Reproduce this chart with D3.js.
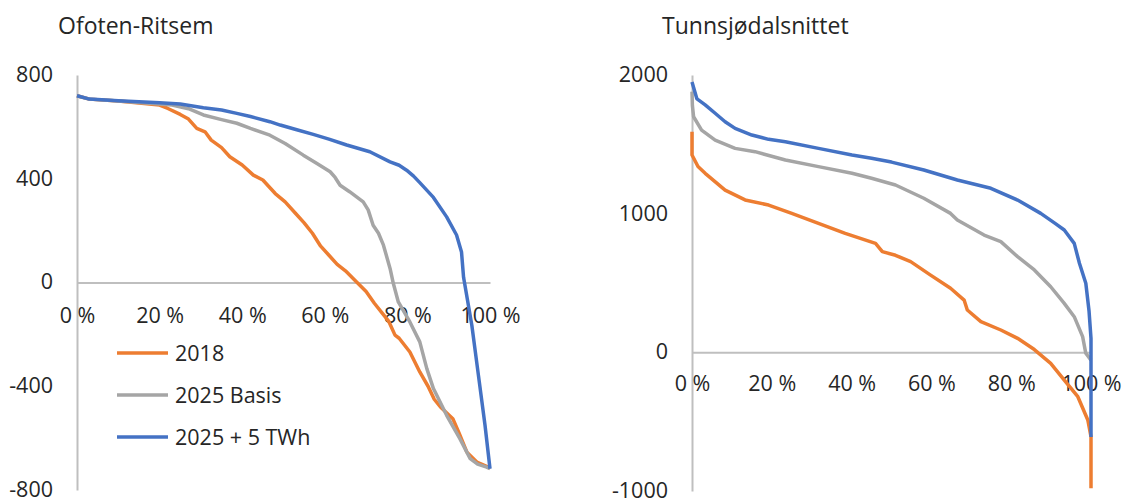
<!DOCTYPE html>
<html>
<head>
<meta charset="utf-8">
<script src="https://cdn.jsdelivr.net/npm/d3@7"></script>
<style>
  body { margin: 0; background: #fff; }
  svg { display: block; }
  text { font-family: "Open Sans", sans-serif; fill: #262626; }
</style>
</head>
<body>
<svg id="chart" width="1129" height="501"></svg>
<script>
// Series shared by both panels
const seriesNames = ["2018", "2025 Basis", "2025 + 5 TWh"];
const seriesColors = ["#ED7D31", "#A5A5A5", "#4472C4"];

// Share of hours (%) on the x axis
const xTicks = [0, 20, 40, 60, 80, 100];
const xTickLabels = ["0 %", "20 %", "40 %", "60 %", "80 %", "100 %"];

// Ofoten-Ritsem duration curves (MW), sorted from highest to lowest
const ofotenTicks = [-800, -400, 0, 400, 800];
const ofotenTickLabels = ["-800", "-400", "0", "400", "800"];
const ofotenPct2018 = [0, 3, 10, 20, 22, 25, 27, 29, 31, 32.5, 35, 37, 40, 42.7, 45, 48, 50.4, 53, 55, 57, 59, 61, 63, 65, 67.7, 70, 72, 74, 75.5, 77, 78, 80.6, 83, 85, 86.5, 88, 91, 92.5, 94.4, 96.8, 99.6, 100];
const ofoten2018 = [720, 707, 700, 684, 671, 648, 630, 594, 581, 549, 520, 485, 453, 414, 395, 343, 311, 265, 230, 190, 140, 105, 70, 45, 2, -35, -80, -120, -150, -203, -215, -268, -345, -400, -450, -480, -525, -580, -654, -692, -712, -718];
const ofotenPctBasis = [0, 3, 10, 20, 23, 27, 30.6, 35, 38.7, 42, 46.7, 50.4, 54.8, 58, 61.3, 62.5, 63.7, 66, 69.3, 70.5, 71.7, 73, 74.2, 75.8, 76.6, 77.8, 80.6, 83, 84.7, 86.3, 89.5, 92.7, 95.2, 97, 99.2, 100];
const ofotenBasis = [720, 707, 700, 688, 684, 670, 646, 628, 614, 594, 568, 536, 491, 460, 427, 405, 375, 350, 311, 280, 221, 190, 144, 54, -4, -75, -152, -229, -332, -409, -512, -602, -679, -700, -712, -718];
const ofotenPctPlus5 = [0, 3, 10, 20, 25, 30.6, 35, 38.7, 42, 46.7, 49.2, 53, 57.2, 61, 65.3, 70.9, 75.8, 78, 79.8, 81.5, 83, 86.3, 89.5, 91.9, 93.1, 93.6, 95.6, 97.2, 98.8, 100];
const ofotenPlus5 = [720, 707, 701, 693, 688, 674, 665, 652, 640, 620, 607, 590, 571, 553, 530, 504, 465, 452, 433, 410, 385, 328, 253, 183, 118, 20, -165, -358, -551, -718];

// Tunnsjødalsnittet duration curves (MW)
const tunnTicks = [-1000, 0, 1000, 2000];
const tunnTickLabels = ["-1000", "0", "1000", "2000"];
const tunnPct2018 = [0, 0, 1.5, 3.3, 8.3, 13.3, 19.2, 25, 31.7, 38.4, 46, 47.7, 51, 54.8, 59.8, 64.8, 68.2, 69, 72.4, 77.4, 81.6, 85.8, 89.9, 93.3, 96.7, 99.2, 100, 100];
const tunn2018 = [1591, 1423, 1340, 1291, 1170, 1099, 1062, 1002, 930, 858, 786, 726, 700, 654, 557, 462, 377, 305, 221, 161, 101, 20, -79, -200, -320, -488, -609, -981];
const tunnPctBasis = [0, 0.1, 0.4, 2.4, 5.8, 10.8, 15.8, 23.4, 31.7, 40.1, 45, 51, 58.1, 64.8, 66.5, 73.2, 77.4, 81.6, 85.8, 89.9, 93.3, 95.8, 97.9, 98.7, 100];
const tunnBasis = [1880, 1780, 1699, 1603, 1531, 1471, 1447, 1387, 1339, 1291, 1255, 1207, 1111, 1002, 954, 846, 798, 690, 594, 473, 353, 257, 113, -7, -56];
const tunnPctPlus5 = [0, 1.2, 1.6, 3.3, 5.8, 8.3, 10.8, 15, 19.2, 23.4, 31.7, 40.1, 45, 50, 58.1, 66.5, 74.9, 81.6, 87.4, 91, 93.3, 95.8, 97.1, 98.7, 99.5, 100, 100];
const tunnPlus5 = [1950, 1830, 1820, 1784, 1724, 1663, 1615, 1567, 1536, 1519, 1471, 1423, 1400, 1372, 1315, 1243, 1183, 1098, 1002, 930, 882, 786, 642, 498, 300, 100, -610];

const svg = d3.select("#chart");

function drawPanel(opt) {
  const x = d3.scaleLinear().domain([0, 100]).range([opt.left, opt.right]);
  const y = d3.scaleLinear().domain(opt.domain).range([opt.bottom, opt.top]);
  const g = svg.append("g");

  // title
  g.append("text")
    .attr("x", opt.titleX).attr("y", 34)
    .style("font-size", "23px")
    .text(opt.title);

  // vertical value axis
  const yAxis = d3.axisLeft(y)
    .tickValues(opt.ticks)
    .tickFormat((d, i) => opt.tickLabels[i])
    .tickSize(0).tickSizeOuter(0).tickPadding(opt.labelGap);
  const ya = g.append("g").attr("transform", `translate(${opt.left},0)`).call(yAxis);
  ya.select(".domain").attr("stroke", "#BFBFBF").attr("stroke-width", 2);
  ya.selectAll("text")
    .attr("dy", "0.3em")
    .style("font-size", "21.5px").style("font-family", "Open Sans").attr("fill", "#262626");

  // horizontal category axis along zero
  const xAxis = d3.axisBottom(x)
    .tickValues(xTicks)
    .tickFormat((d, i) => xTickLabels[i])
    .tickSize(0).tickSizeOuter(0);
  const xa = g.append("g").attr("transform", `translate(0,${y(0)})`).call(xAxis);
  xa.select(".domain").attr("stroke", "#BFBFBF").attr("stroke-width", 2);
  xa.selectAll("text")
    .attr("y", opt.xLabelOffset).attr("dy", "0.35em")
    .style("font-size", "21.5px").style("font-family", "Open Sans").attr("fill", "#262626");

  const line = d3.line().x(d => x(d[0])).y(d => y(d[1]));
  opt.series.forEach((s, i) => {
    const pts = s.pct.map((p, k) => [p, s.val[k]]);
    g.append("path")
      .datum(pts)
      .attr("fill", "none")
      .attr("stroke", seriesColors[i])
      .attr("stroke-width", 3.5)
      .attr("stroke-linejoin", "round")
      .attr("stroke-linecap", "butt")
      .attr("d", line);
  });
}

drawPanel({
  title: "Ofoten-Ritsem", titleX: 58,
  left: 77, right: 490, top: 75, bottom: 490,
  domain: [-800, 800], ticks: ofotenTicks, tickLabels: ofotenTickLabels,
  labelGap: 24, xLabelOffset: 33,
  series: [
    { pct: ofotenPct2018, val: ofoten2018 },
    { pct: ofotenPctBasis, val: ofotenBasis },
    { pct: ofotenPctPlus5, val: ofotenPlus5 }
  ]
});

drawPanel({
  title: "Tunnsjødalsnittet", titleX: 662,
  left: 692, right: 1091, top: 75, bottom: 491,
  domain: [-1000, 2000], ticks: tunnTicks, tickLabels: tunnTickLabels,
  labelGap: 24, xLabelOffset: 31,
  series: [
    { pct: tunnPct2018, val: tunn2018 },
    { pct: tunnPctBasis, val: tunnBasis },
    { pct: tunnPctPlus5, val: tunnPlus5 }
  ]
});

// legend inside the left panel
const legend = svg.append("g").attr("transform", "translate(117,353)");
seriesNames.forEach((name, i) => {
  const row = legend.append("g").attr("transform", `translate(0,${i * 42})`);
  row.append("line")
    .attr("x1", 0).attr("x2", 51).attr("y1", 0).attr("y2", 0)
    .attr("stroke", seriesColors[i]).attr("stroke-width", 3.5);
  row.append("text")
    .attr("x", 58).attr("y", 0).attr("dy", "0.35em")
    .style("font-size", "21.5px")
    .text(name);
});
</script>
</body>
</html>
